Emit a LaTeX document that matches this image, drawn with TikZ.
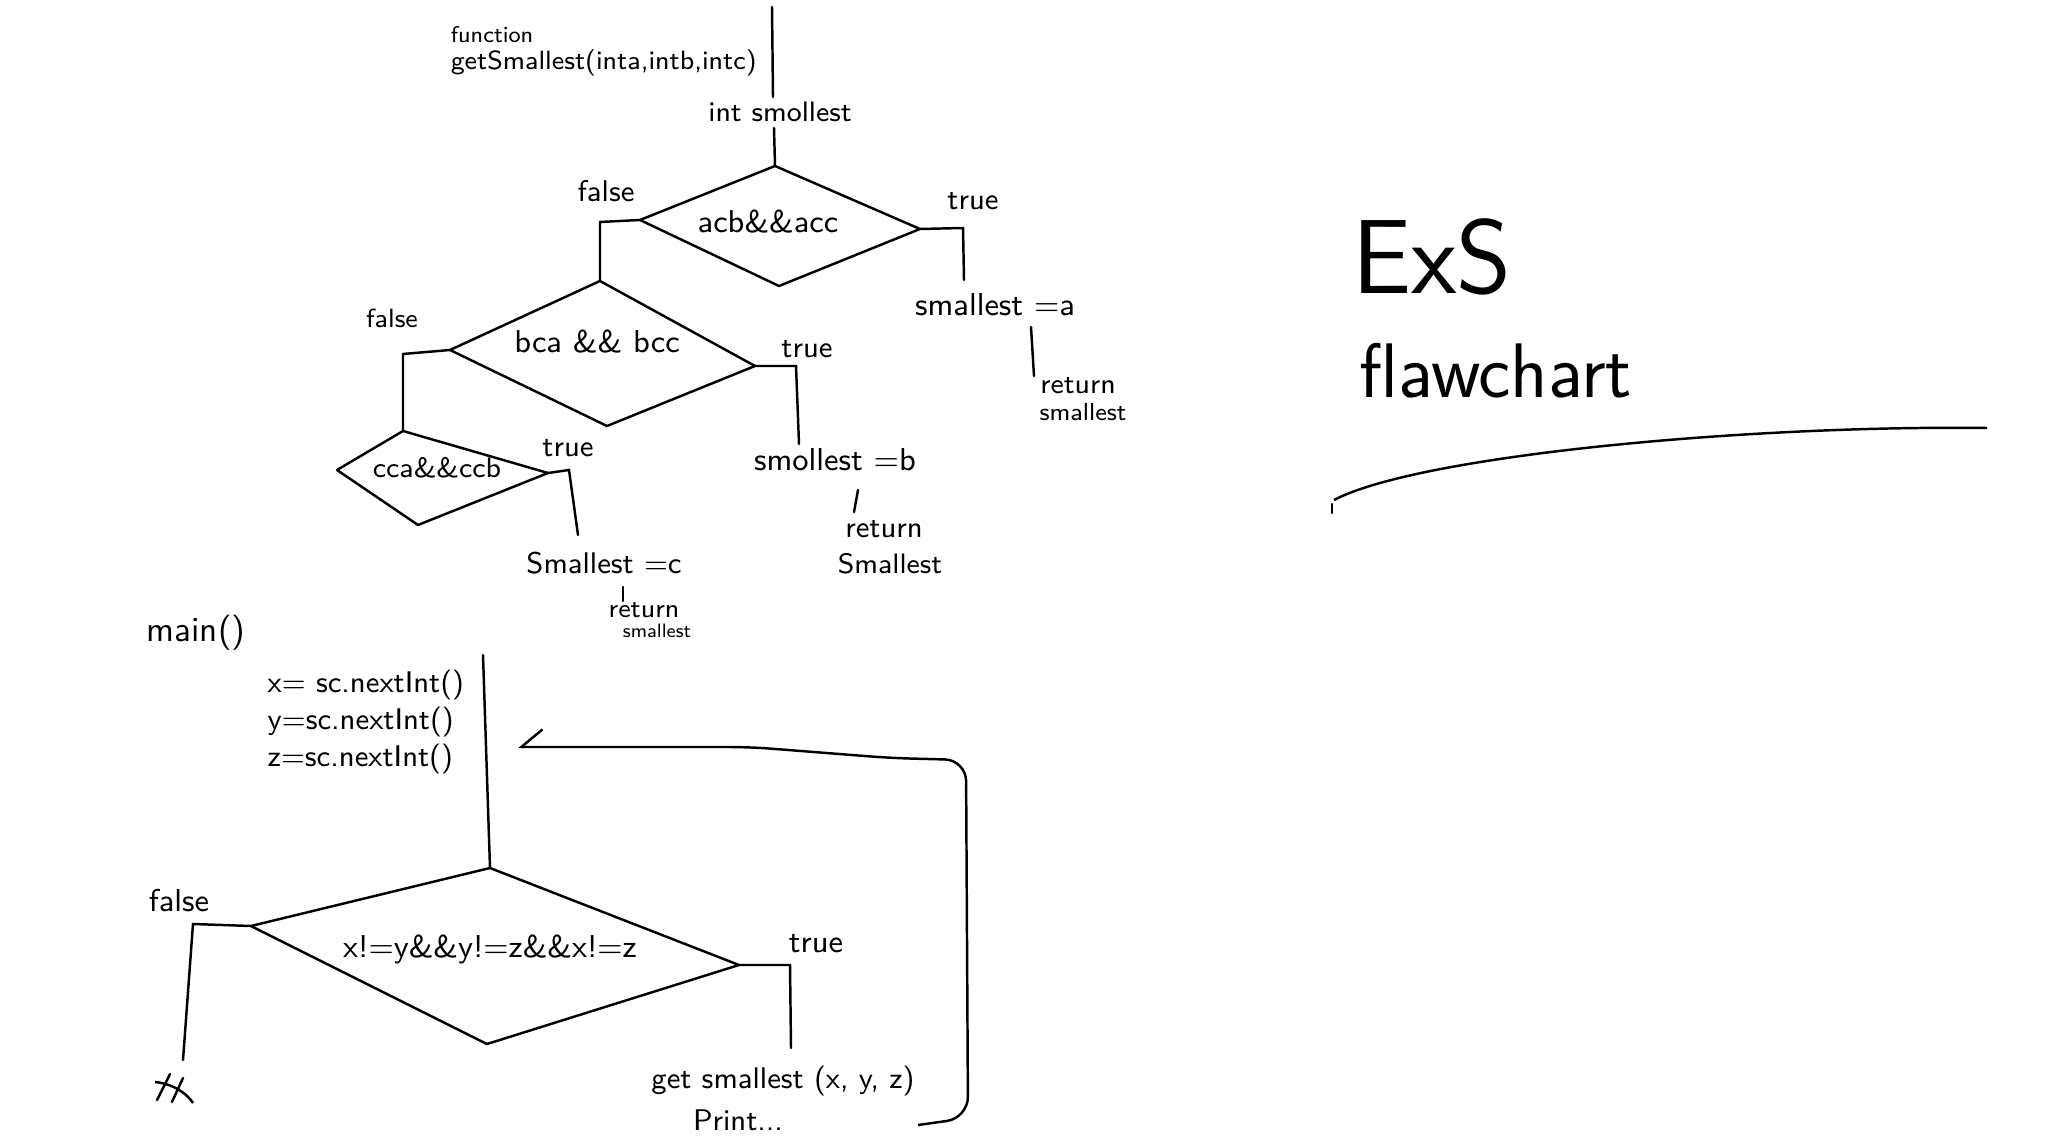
\documentclass[tikz,border=0pt]{standalone}
\usepackage{tkz-euclide}
\usetikzlibrary{arrows.meta,calc}
\tikzset{
  lbl/.style={font=\sffamily\fontsize{#1}{#1}\selectfont,inner sep=1pt},
  lbl/.default=8.5,
  cond/.style={font=\sffamily\fontsize{9}{10}\selectfont,inner sep=1pt},
}

\begin{document}
\begin{tikzpicture}[line width=0.7pt]
\tkzSetUpLine[line width=0.7pt,color=black]
\useasboundingbox (0,0) rectangle (20.47,-11.44);

% getSmallest
\tkzDefPoints{7.72/-0.07/T1,7.73/-0.97/T2,7.74/-1.28/T3}
\tkzDefPoints{7.75/-1.66/D1t,6.40/-2.20/D1l,9.20/-2.29/D1r,7.79/-2.86/D1b}
\tkzDefPoints{6.00/-2.22/F1a,6.00/-2.81/D2t,9.63/-2.28/R1a,9.64/-2.80/R1b}
\tkzDefPoints{10.31/-3.27/A1,10.34/-3.76/A2}
\tkzDefPoints{4.50/-3.50/D2l,7.55/-3.66/D2r,6.07/-4.26/D2b}
\tkzDefPoints{4.03/-3.54/F2a,4.03/-4.31/D3t,7.96/-3.66/R2a,7.99/-4.44/R2b}
\tkzDefPoints{8.58/-4.90/B1,8.54/-5.12/B2}
\tkzDefPoints{3.37/-4.70/D3l,5.48/-4.73/D3r,4.18/-5.25/D3b}
\tkzDefPoints{5.69/-4.70/R3a,5.78/-5.35/R3b,6.23/-5.87/C1,6.23/-6.01/C2}

\tkzDrawSegments(T1,T2 T3,D1t A1,A2 B1,B2 C1,C2)
\tkzDrawPolygon(D1t,D1r,D1b,D1l)
\tkzDrawPolygon(D2t,D2r,D2b,D2l)
\tkzDrawPolygon(D3t,D3r,D3b,D3l)
\tkzDrawPolySeg(D1l,F1a,D2t)
\tkzDrawPolySeg(D1r,R1a,R1b)
\tkzDrawPolySeg(D2l,F2a,D3t)
\tkzDrawPolySeg(D2r,R2a,R2b)
\tkzDrawPolySeg(D3r,R3a,R3b)

\node[lbl=6.5,anchor=base west] (fnc1) at (4.46,-0.43) {function};
\node[lbl=7.5,anchor=base west] (fnc2) at (4.46,-0.70) {getSmallest(inta,intb,intc)};
\node[lbl=8] (intS) at (7.80,-1.12) {int smollest};

\node[cond] (c1) at (7.68,-2.22) {acb\&\&acc};
\node[lbl] (fl1) at (6.06,-1.91) {false};
\node[lbl] (tr1) at (9.73,-2.01) {true};
\node[lbl=9] (sa) at (9.95,-3.05) {smallest =a};
\node[lbl=8] (ra) at (10.78,-3.86) {return};
\node[lbl=7] (ra2) at (10.83,-4.12) {smallest};

\node[cond] (c2) at (5.97,-3.42) {bca \&\& bcc};
\node[lbl=7.5] (fl2) at (3.92,-3.18) {false};
\node[lbl] (tr2) at (8.07,-3.49) {true};
\node[lbl=9] (sb) at (8.35,-4.60) {smollest =b};
\node[lbl=8.5] (rb) at (8.84,-5.29) {return};
\node[lbl=8] (rb2) at (8.90,-5.64) {Smallest};

\node[lbl=8] (c3) at (4.37,-4.68) {cca\&\&ccb};
\node[lbl] (tr3) at (5.68,-4.48) {true};
\node[lbl=8.5] (sc) at (6.04,-5.63) {Smallest =c};
\node[lbl=7.5] (rc) at (6.44,-6.10) {return};
\node[lbl=5.5] (rc2) at (6.57,-6.31) {smallest};

% main
\tkzDefPoints{4.83/-6.55/M1,4.90/-8.68/D4t,2.51/-9.26/D4l,7.39/-9.65/D4r,4.87/-10.44/D4b}
\tkzDefPoints{1.93/-9.24/F4a,1.83/-10.60/F4b,7.90/-9.65/R4a,7.91/-10.48/R4b}
\tkzDefPoints{9.18/-11.25/L1,9.68/-11.18/L2,9.66/-7.60/L3,8.90/-7.58/L4,7.50/-7.47/L5,5.18/-7.47/L6}
\tkzDefPoints{1.70/-10.74/X1,1.57/-11.00/X2,1.83/-10.78/X3,1.72/-11.02/X4,1.55/-10.82/X5,1.93/-11.03/X6}

\tkzDrawSegments(M1,D4t X1,X2 X3,X4)
\tkzDrawPolygon(D4t,D4r,D4b,D4l)
\tkzDrawPolySeg(D4l,F4a,F4b)
\tkzDrawPolySeg(D4r,R4a,R4b)
\draw (X5) .. controls (1.75,-10.84) and (1.88,-10.95) .. (X6);
\draw[rounded corners=6pt,-{Straight Barb[right,length=6pt,width=10pt]}]
  (L1) -- (L2) -- (L3) -- (L4) -- (L5) -- (L6);

\node[lbl=10] (mainT) at (1.96,-6.33) {main()};
\node[font=\sffamily\fontsize{8.5}{10.5}\selectfont,align=left,anchor=west,inner sep=1pt] (code) at (2.63,-7.22)
  {x= sc.nextInt()\\y=sc.nextInt()\\z=sc.nextInt()};
\node[cond] (c4) at (4.90,-9.49) {x!=y\&\&y!=z\&\&x!=z};
\node[lbl=9] (fl4) at (1.79,-9.01) {false};
\node[lbl=9] (tr4) at (8.16,-9.44) {true};
\node[lbl] (gs) at (7.83,-10.81) {get smallest (x, y, z)};
\node[lbl] (pr) at (7.38,-11.20) {Print...};

% title
\tkzDefPoints{13.34/-5.00/U1,19.87/-4.28/U2,13.32/-5.04/U3,13.32/-5.13/U4}
\node[lbl=30,anchor=base west,inner sep=0pt] (ttl1) at (13.51,-2.94) {ExS};
\node[lbl=22,anchor=base west,inner sep=0pt] (ttl2) at (13.58,-3.98) {flawchart};
\draw (U1) .. controls (14.20,-4.55) and (17.50,-4.25) .. (U2);
\tkzDrawSegments(U3,U4)

\end{tikzpicture}
\end{document}
